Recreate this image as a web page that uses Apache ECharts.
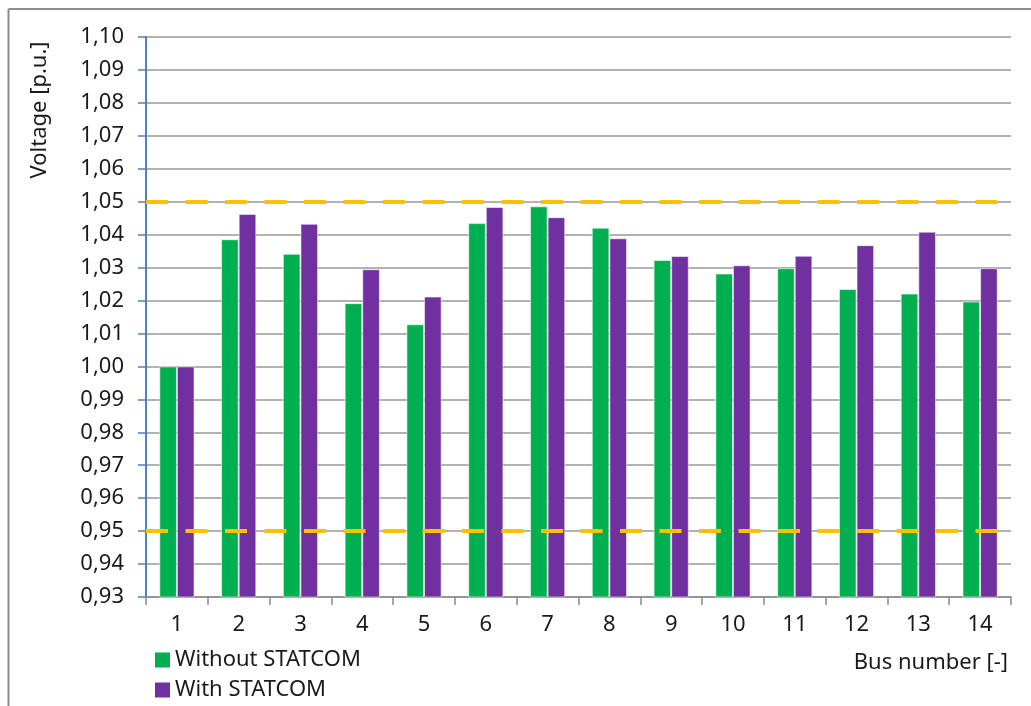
<!DOCTYPE html>
<html>
<head>
<meta charset="utf-8">
<title>Bus voltages</title>
<script src="https://cdn.jsdelivr.net/npm/echarts@6/dist/echarts.min.js"></script>
<style>
  html, body { margin: 0; padding: 0; background: #ffffff; }
  #chart { width: 1031px; height: 706px; }
</style>
</head>
<body>
<div id="chart"></div>
<script>
// Bus numbers on the category axis
const buses = ['1', '2', '3', '4', '5', '6', '7', '8', '9', '10', '11', '12', '13', '14'];

// Bus voltage magnitudes in p.u.
const withoutStatcom = [1.000, 1.0386, 1.0342, 1.0192, 1.0128, 1.0435, 1.0486, 1.0421, 1.0323, 1.0282, 1.0298, 1.0235, 1.0221, 1.0197];
const withStatcom    = [1.000, 1.0463, 1.0433, 1.0295, 1.0212, 1.0484, 1.0453, 1.0389, 1.0335, 1.0307, 1.0336, 1.0368, 1.0409, 1.0298];

// Permitted voltage band limits in p.u.
const voltageLimits = [0.95, 1.05];

// Value axis range and step
const yMin = 0.93;
const yMax = 1.10;
const yStep = 0.01;

const FONT = '"Noto Sans", "Open Sans", sans-serif';
const FONT_SIZE = 22;
const TEXT_COLOR = '#1a1a1a';

const chart = echarts.init(document.getElementById('chart'), null, { renderer: 'canvas' });

const limitLines = voltageLimits.map(v => ({ yAxis: v }));

chart.setOption({
  backgroundColor: '#ffffff',
  animation: false,
  textStyle: { fontFamily: FONT },
  grid: { left: 146, right: 20, top: 37, bottom: 109, containLabel: false },
  legend: {
    orient: 'vertical',
    left: 150,
    top: 644,
    itemWidth: 15,
    itemHeight: 15,
    itemGap: 8,
    icon: 'rect',
    itemStyle: { borderWidth: 0 },
    textStyle: { fontFamily: FONT, fontSize: FONT_SIZE, color: TEXT_COLOR },
    data: ['Without STATCOM', 'With STATCOM']
  },
  xAxis: {
    type: 'category',
    data: buses,
    boundaryGap: true,
    axisLine: { show: true, lineStyle: { color: '#8c8c8c', width: 1.5 } },
    axisTick: { show: true, length: 8, alignWithLabel: false, lineStyle: { color: '#8c8c8c', width: 1.5 } },
    axisLabel: { fontFamily: FONT, fontSize: FONT_SIZE, color: TEXT_COLOR, margin: 17 },
    splitLine: { show: false }
  },
  yAxis: {
    type: 'value',
    min: yMin,
    max: yMax,
    interval: yStep,
    axisLine: { show: true, lineStyle: { color: '#4f81bd', width: 2 } },
    axisTick: { show: true, inside: false, length: 8, lineStyle: { color: '#4f81bd', width: 1.5 } },
    axisLabel: {
      fontFamily: FONT,
      fontSize: FONT_SIZE,
      color: TEXT_COLOR,
      margin: 22,
      formatter: v => v.toFixed(2).replace('.', ',')
    },
    splitLine: { show: true, lineStyle: { color: '#999999', width: 1.5 } }
  },
  series: [
    {
      name: 'Without STATCOM',
      type: 'bar',
      data: withoutStatcom,
      barGap: '0%',
      barCategoryGap: '43%',
      itemStyle: { color: '#00b050', borderColor: 'rgba(255,255,255,0.55)', borderWidth: 1 },
      markLine: {
        silent: true,
        symbol: ['none', 'none'],
        label: { show: false },
        lineStyle: { color: '#ffc000', width: 4, type: [22, 17.5] },
        data: limitLines
      }
    },
    {
      name: 'With STATCOM',
      type: 'bar',
      data: withStatcom,
      barGap: '0%',
      barCategoryGap: '43%',
      itemStyle: { color: '#7030a0', borderColor: 'rgba(255,255,255,0.55)', borderWidth: 1 }
    }
  ],
  graphic: [
    // chart frame (top and left edges)
    { type: 'line', shape: { x1: 8.5, y1: 9, x2: 1031, y2: 9 }, style: { stroke: '#8c8c8c', lineWidth: 2 }, silent: true },
    { type: 'line', shape: { x1: 8.5, y1: 9, x2: 8.5, y2: 706 }, style: { stroke: '#8c8c8c', lineWidth: 2 }, silent: true },
    // axis titles
    {
      type: 'text',
      x: 40, y: 110,
      rotation: Math.PI / 2,
      style: { text: 'Voltage [p.u.]', font: FONT_SIZE + 'px ' + FONT, fill: TEXT_COLOR, align: 'center', verticalAlign: 'middle' }
    },
    {
      type: 'text',
      x: 1008, y: 663,
      style: { text: 'Bus number [-]', font: FONT_SIZE + 'px ' + FONT, fill: TEXT_COLOR, align: 'right', verticalAlign: 'middle' }
    }
  ]
});
</script>
</body>
</html>
